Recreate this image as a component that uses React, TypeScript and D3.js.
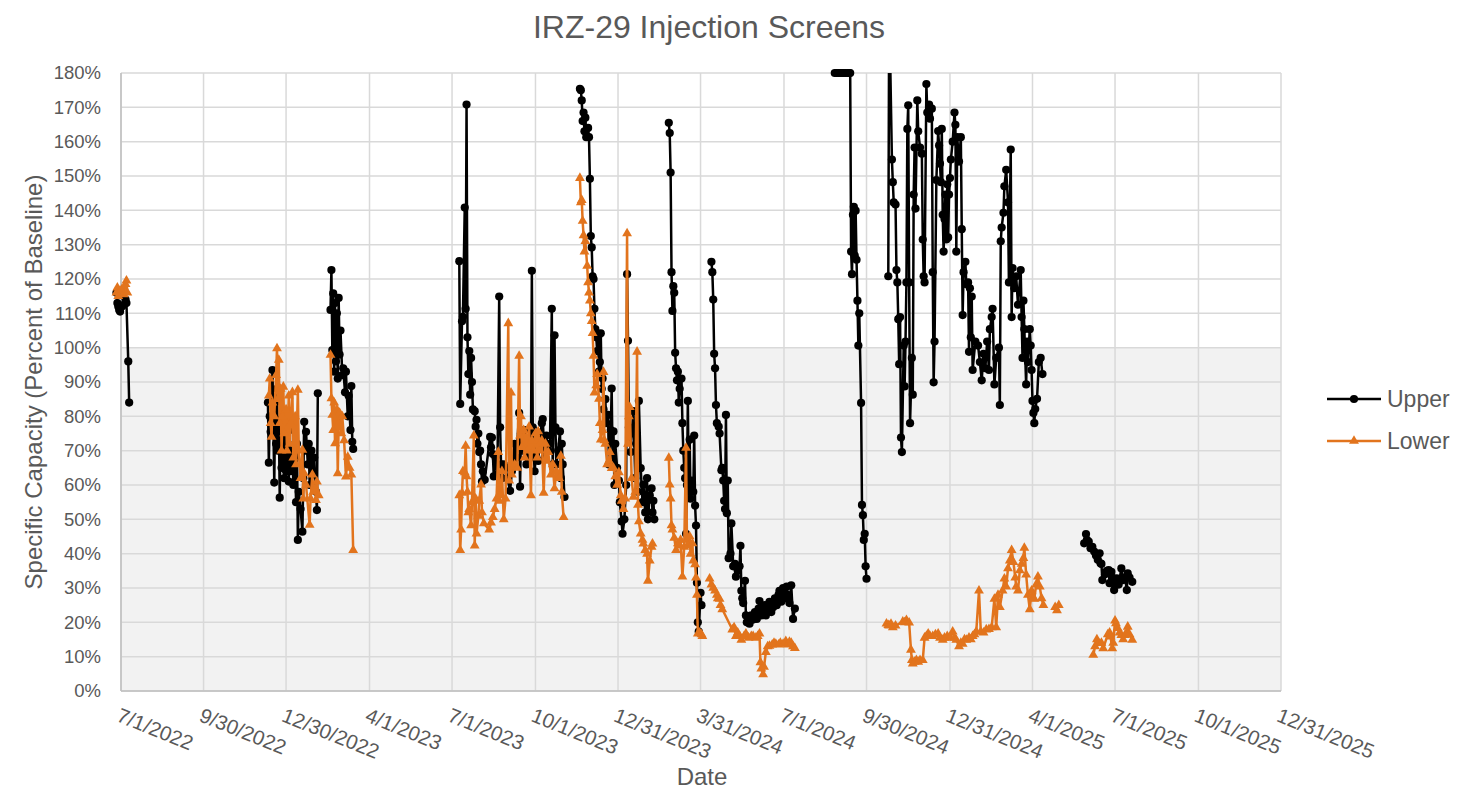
import * as d3 from 'd3';
import { useRef, useEffect } from 'react';

// RENDERING SETUP
const WIDTH = 1461;
const HEIGHT = 791;
const MARGIN = { TOP: 73, RIGHT: 180, BOTTOM: 100, LEFT: 121 };
const COLOR = {
  UPPER: '#000000',
  LOWER: '#E2741D',
  TEXT: '#595959',
  GRID: '#d9d9d9',
  AXIS: '#bfbfbf',
  BAND: '#f2f2f2',
};
const FONT = '"Liberation Sans", Arial, sans-serif';

// AXES
const X_DOMAIN = ['2022-07-01', '2025-12-31'];
const X_TICKS = [
  '2022-07-01', '2022-09-30', '2022-12-30', '2023-04-01', '2023-07-01',
  '2023-10-01', '2023-12-31', '2024-03-31', '2024-07-01', '2024-09-30',
  '2024-12-31', '2025-04-01', '2025-07-01', '2025-10-01', '2025-12-31',
];
const X_LABELS = [
  '7/1/2022', '9/30/2022', '12/30/2022', '4/1/2023', '7/1/2023',
  '10/1/2023', '12/31/2023', '3/31/2024', '7/1/2024', '9/30/2024',
  '12/31/2024', '4/1/2025', '7/1/2025', '10/1/2025', '12/31/2025',
];
const Y_TICKS = [0, 10, 20, 30, 40, 50, 60, 70, 80, 90, 100, 110, 120, 130, 140, 150, 160, 170, 180];
const BASELINE = 100;

type Pt = [string, number];

// UPPER SCREEN (percent of baseline), one array per run of readings
const UPPER_JUN22: Pt[] = [
  ['2022-06-26', 116], ['2022-06-27', 113], ['2022-06-28', 112], ['2022-06-29', 111],
  ['2022-06-30', 110.5], ['2022-07-02', 112], ['2022-07-04', 112.5], ['2022-07-06', 114],
  ['2022-07-07', 113], ['2022-07-09', 96], ['2022-07-10', 84],
];
const UPPER_DEC22: Pt[] = [
  ['2022-12-10', 84], ['2022-12-11', 66.5], ['2022-12-12', 80], ['2022-12-13', 75.5],
  ['2022-12-15', 93.5], ['2022-12-16', 77], ['2022-12-17', 60.7], ['2022-12-18', 84],
  ['2022-12-19', 72], ['2022-12-20', 88], ['2022-12-21', 70], ['2022-12-22', 79],
  ['2022-12-23', 56.3], ['2022-12-24', 75], ['2022-12-25', 65], ['2022-12-27', 78],
  ['2022-12-28', 62], ['2022-12-29', 74], ['2022-12-30', 64], ['2023-01-01', 72],
  ['2023-01-02', 61], ['2023-01-03', 76], ['2023-01-04', 64], ['2023-01-06', 70],
  ['2023-01-07', 60], ['2023-01-09', 68], ['2023-01-10', 55], ['2023-01-11', 72],
  ['2023-01-12', 44], ['2023-01-13', 58], ['2023-01-15', 53], ['2023-01-17', 46.4],
  ['2023-01-18', 62], ['2023-01-19', 78.4], ['2023-01-20', 70], ['2023-01-21', 75.5],
  ['2023-01-23', 66], ['2023-01-24', 72], ['2023-01-25', 60], ['2023-01-27', 70],
  ['2023-01-28', 63], ['2023-01-30', 68], ['2023-02-01', 58], ['2023-02-02', 52.7],
  ['2023-02-03', 86.7],
];
const UPPER_FEB23: Pt[] = [
  ['2023-02-17', 111], ['2023-02-18', 122.6], ['2023-02-19', 99.3], ['2023-02-20', 115.8],
  ['2023-02-21', 93], ['2023-02-22', 113], ['2023-02-23', 96], ['2023-02-24', 110],
  ['2023-02-25', 91], ['2023-02-26', 114.5], ['2023-02-27', 98], ['2023-02-28', 105],
  ['2023-03-02', 92], ['2023-03-03', 94], ['2023-03-05', 87], ['2023-03-06', 93],
  ['2023-03-08', 80], ['2023-03-09', 86], ['2023-03-11', 76], ['2023-03-12', 88.8],
  ['2023-03-13', 72.6], ['2023-03-14', 70.5],
];
const UPPER_JUL23: Pt[] = [
  ['2023-07-09', 125.2], ['2023-07-10', 83.6], ['2023-07-12', 107.7], ['2023-07-13', 109],
  ['2023-07-15', 140.8], ['2023-07-16', 111.3], ['2023-07-17', 170.8], ['2023-07-18', 103],
  ['2023-07-19', 92.3], ['2023-07-20', 99], ['2023-07-21', 86.3], ['2023-07-22', 97],
  ['2023-07-23', 90], ['2023-07-24', 82], ['2023-07-26', 81.5], ['2023-07-27', 77],
  ['2023-07-28', 79], ['2023-07-29', 72], ['2023-07-30', 75], ['2023-07-31', 69.6],
  ['2023-08-01', 70], ['2023-08-02', 66], ['2023-08-03', 61], ['2023-08-04', 64],
  ['2023-08-06', 61.5], ['2023-08-12', 74], ['2023-08-13', 71], ['2023-08-14', 73.8],
  ['2023-08-15', 69], ['2023-08-16', 62.5], ['2023-08-18', 68], ['2023-08-20', 63],
  ['2023-08-22', 114.9], ['2023-08-23', 76.8], ['2023-08-24', 66], ['2023-08-25', 62],
  ['2023-08-27', 66], ['2023-08-29', 65], ['2023-08-31', 62], ['2023-09-03', 58.3],
  ['2023-09-05', 64], ['2023-09-08', 72], ['2023-09-10', 68], ['2023-09-13', 81],
  ['2023-09-14', 59.5], ['2023-09-15', 75], ['2023-09-17', 70], ['2023-09-19', 76],
  ['2023-09-21', 66], ['2023-09-23', 72], ['2023-09-26', 68], ['2023-09-27', 122.4],
  ['2023-09-28', 76.8], ['2023-09-30', 64], ['2023-10-02', 70], ['2023-10-04', 67],
  ['2023-10-06', 74], ['2023-10-08', 78], ['2023-10-09', 79.2], ['2023-10-11', 68],
  ['2023-10-13', 74.4], ['2023-10-15', 70], ['2023-10-17', 72], ['2023-10-19', 111.3],
  ['2023-10-20', 66], ['2023-10-22', 103.6], ['2023-10-23', 76.8], ['2023-10-24', 66],
  ['2023-10-26', 70], ['2023-10-28', 75.6], ['2023-10-29', 62], ['2023-10-30', 72],
  ['2023-10-31', 66], ['2023-11-02', 56.5],
];
const UPPER_NOV23: Pt[] = [
  ['2023-11-19', 175.4], ['2023-11-20', 175], ['2023-11-21', 172], ['2023-11-22', 166],
  ['2023-11-23', 168.5], ['2023-11-24', 163], ['2023-11-25', 167], ['2023-11-26', 161.3],
  ['2023-11-28', 164], ['2023-11-29', 161.3], ['2023-11-30', 149.2], ['2023-12-01', 132.5],
  ['2023-12-02', 129.2], ['2023-12-03', 120.8], ['2023-12-04', 120], ['2023-12-05', 111.3],
  ['2023-12-06', 105.4], ['2023-12-07', 103], ['2023-12-08', 99], ['2023-12-09', 103],
  ['2023-12-10', 93], ['2023-12-11', 95.8], ['2023-12-12', 104.2], ['2023-12-13', 88],
  ['2023-12-14', 91], ['2023-12-15', 82], ['2023-12-17', 85], ['2023-12-18', 78],
  ['2023-12-20', 80.4], ['2023-12-21', 66], ['2023-12-23', 76], ['2023-12-24', 88.1],
  ['2023-12-25', 68], ['2023-12-26', 75.6], ['2023-12-27', 60], ['2023-12-28', 72],
  ['2023-12-30', 65], ['2024-01-01', 61.3], ['2024-01-02', 55], ['2024-01-04', 49.4],
  ['2024-01-05', 45.8], ['2024-01-07', 50], ['2024-01-09', 60], ['2024-01-10', 121.4],
  ['2024-01-11', 102], ['2024-01-12', 76.8], ['2024-01-14', 69.6], ['2024-01-15', 75],
  ['2024-01-17', 81.5], ['2024-01-19', 62], ['2024-01-20', 72], ['2024-01-22', 58],
  ['2024-01-23', 84.5], ['2024-01-25', 64.9], ['2024-01-27', 55], ['2024-01-28', 60.1],
  ['2024-01-30', 52], ['2024-02-01', 62], ['2024-02-02', 50], ['2024-02-04', 57],
  ['2024-02-06', 59], ['2024-02-07', 52], ['2024-02-08', 55.4], ['2024-02-09', 50],
];
const UPPER_FEB24: Pt[] = [
  ['2024-02-25', 165.5], ['2024-02-26', 162.5], ['2024-02-27', 151], ['2024-02-28', 122],
  ['2024-02-29', 110.7], ['2024-03-01', 117.9], ['2024-03-02', 116], ['2024-03-03', 98.5],
  ['2024-03-04', 94], ['2024-03-05', 90.5], ['2024-03-06', 93], ['2024-03-07', 84],
  ['2024-03-08', 88], ['2024-03-10', 91], ['2024-03-11', 78], ['2024-03-12', 70],
  ['2024-03-13', 65], ['2024-03-14', 62], ['2024-03-15', 45.8], ['2024-03-16', 60],
  ['2024-03-17', 84.5], ['2024-03-18', 58], ['2024-03-19', 73.2], ['2024-03-20', 56],
  ['2024-03-21', 61.3], ['2024-03-23', 58], ['2024-03-24', 74.4], ['2024-03-25', 54],
  ['2024-03-26', 48.2], ['2024-03-27', 31.5], ['2024-03-28', 20], ['2024-03-29', 17.3],
  ['2024-03-31', 28.6], ['2024-04-01', 25],
];
const UPPER_APR24: Pt[] = [
  ['2024-04-12', 125], ['2024-04-13', 122], ['2024-04-14', 114], ['2024-04-15', 98.2],
  ['2024-04-16', 94], ['2024-04-17', 83.3], ['2024-04-18', 78], ['2024-04-20', 77],
  ['2024-04-21', 75], ['2024-04-23', 64.3], ['2024-04-24', 65], ['2024-04-25', 61.3],
  ['2024-04-26', 55.4], ['2024-04-27', 53], ['2024-04-28', 80.4], ['2024-04-29', 51.8],
  ['2024-04-30', 61.3], ['2024-05-01', 38.7], ['2024-05-03', 40], ['2024-05-04', 48.8],
  ['2024-05-06', 36.3], ['2024-05-08', 37], ['2024-05-09', 33.3], ['2024-05-11', 35],
  ['2024-05-13', 36.3], ['2024-05-14', 42.3], ['2024-05-15', 29.2], ['2024-05-16', 27],
  ['2024-05-17', 25.6], ['2024-05-19', 32.1], ['2024-05-20', 22], ['2024-05-21', 20],
  ['2024-05-23', 21], ['2024-05-24', 19.6], ['2024-05-26', 22], ['2024-05-28', 20.8],
  ['2024-05-30', 23], ['2024-06-01', 21], ['2024-06-03', 24], ['2024-06-04', 26.2],
  ['2024-06-06', 22], ['2024-06-08', 23.8], ['2024-06-10', 25], ['2024-06-11', 22],
  ['2024-06-13', 24], ['2024-06-15', 26], ['2024-06-17', 23], ['2024-06-19', 24.4],
  ['2024-06-21', 27], ['2024-06-23', 25], ['2024-06-25', 28], ['2024-06-26', 29.2],
  ['2024-06-28', 26], ['2024-06-30', 30], ['2024-07-02', 27], ['2024-07-04', 30.4],
  ['2024-07-05', 28], ['2024-07-07', 25.6], ['2024-07-09', 30.8], ['2024-07-11', 21],
  ['2024-07-13', 24],
];
const UPPER_AUG24: Pt[] = [
  ['2024-08-26', 180], ['2024-08-28', 180], ['2024-08-30', 180], ['2024-09-01', 180],
  ['2024-09-03', 180], ['2024-09-05', 180], ['2024-09-07', 180], ['2024-09-09', 180],
  ['2024-09-11', 180], ['2024-09-12', 180], ['2024-09-13', 128], ['2024-09-14', 121.4],
  ['2024-09-15', 138.7], ['2024-09-16', 141], ['2024-09-17', 126.8], ['2024-09-18', 139.9],
  ['2024-09-19', 125.6], ['2024-09-20', 113.7], ['2024-09-21', 100.6], ['2024-09-22', 110],
  ['2024-09-24', 83.9], ['2024-09-25', 54.2], ['2024-09-26', 51.2], ['2024-09-27', 44],
  ['2024-09-28', 45.8], ['2024-09-29', 36.3], ['2024-09-30', 32.7],
];
const UPPER_OCT24: Pt[] = [
  ['2024-10-24', 120.8], ['2024-10-25', 200], ['2024-10-28', 154.8], ['2024-10-29', 148.2],
  ['2024-10-30', 142.3], ['2024-11-01', 141.7], ['2024-11-02', 122.6], ['2024-11-03', 119],
  ['2024-11-04', 108.3], ['2024-11-05', 95.2], ['2024-11-06', 108.9], ['2024-11-07', 73.8],
  ['2024-11-08', 69.6], ['2024-11-10', 100.6], ['2024-11-11', 88.7], ['2024-11-12', 101.8],
  ['2024-11-13', 119], ['2024-11-14', 163.7], ['2024-11-15', 170.6], ['2024-11-16', 119],
  ['2024-11-17', 78], ['2024-11-19', 97], ['2024-11-20', 86.3], ['2024-11-21', 144.6],
  ['2024-11-22', 158.3], ['2024-11-23', 140.5], ['2024-11-25', 172], ['2024-11-26', 163],
  ['2024-11-28', 158.3], ['2024-11-30', 156.5], ['2024-12-01', 131.5], ['2024-12-02', 120.8],
  ['2024-12-03', 119], ['2024-12-05', 176.8], ['2024-12-06', 168.5], ['2024-12-08', 170.8],
  ['2024-12-09', 166.7], ['2024-12-11', 169.6], ['2024-12-12', 122], ['2024-12-13', 89.9],
  ['2024-12-14', 101.8], ['2024-12-16', 148.8], ['2024-12-18', 163.1], ['2024-12-19', 158.9],
  ['2024-12-20', 153.6], ['2024-12-21', 148.2], ['2024-12-22', 163.7], ['2024-12-23', 138.7],
  ['2024-12-24', 128], ['2024-12-25', 137.5], ['2024-12-26', 144.6], ['2024-12-27', 131.5],
  ['2024-12-28', 147.6], ['2024-12-29', 132.1], ['2024-12-30', 144.6], ['2024-12-31', 149.4],
  ['2025-01-01', 154.8], ['2025-01-03', 160], ['2025-01-05', 168.5], ['2025-01-06', 164.9],
  ['2025-01-07', 128], ['2025-01-08', 161.3], ['2025-01-10', 154.2], ['2025-01-12', 161.3],
  ['2025-01-13', 134.5], ['2025-01-14', 109.5], ['2025-01-15', 122], ['2025-01-17', 125],
  ['2025-01-18', 118.5], ['2025-01-20', 119], ['2025-01-21', 98.8], ['2025-01-22', 117.3],
  ['2025-01-23', 103], ['2025-01-24', 114.9], ['2025-01-25', 93.5], ['2025-01-28', 101.8],
  ['2025-01-31', 100.6], ['2025-02-02', 95.8], ['2025-02-04', 90.5], ['2025-02-06', 98.2],
  ['2025-02-08', 94], ['2025-02-10', 101.8], ['2025-02-12', 93.5], ['2025-02-13', 105.4],
  ['2025-02-15', 108.9], ['2025-02-16', 111.3], ['2025-02-18', 89.3], ['2025-02-20', 97],
  ['2025-02-23', 100], ['2025-02-24', 83.3], ['2025-02-25', 131], ['2025-02-26', 135],
  ['2025-02-28', 139.3], ['2025-03-01', 147], ['2025-03-03', 151.8], ['2025-03-05', 142.3],
  ['2025-03-06', 119], ['2025-03-08', 157.7], ['2025-03-09', 108.9], ['2025-03-10', 123.2],
  ['2025-03-12', 117.3], ['2025-03-14', 120.8], ['2025-03-16', 112.5], ['2025-03-19', 122.6],
  ['2025-03-20', 108.9], ['2025-03-21', 97], ['2025-03-22', 113.7], ['2025-03-23', 105.4],
  ['2025-03-25', 89.3], ['2025-03-26', 101.8], ['2025-03-27', 95.8], ['2025-03-29', 105.4],
  ['2025-03-30', 100.6], ['2025-03-31', 93.5], ['2025-04-01', 84.5], ['2025-04-02', 81],
  ['2025-04-03', 78], ['2025-04-04', 82.1], ['2025-04-06', 85.1], ['2025-04-08', 95.8],
  ['2025-04-10', 97], ['2025-04-12', 92.3],
];
const UPPER_MAY25: Pt[] = [
  ['2025-05-28', 43], ['2025-05-30', 45.7], ['2025-05-31', 44], ['2025-06-02', 43.5],
  ['2025-06-04', 41.6], ['2025-06-06', 42], ['2025-06-08', 40.6], ['2025-06-10', 39.5],
  ['2025-06-12', 38.2], ['2025-06-14', 40.1], ['2025-06-15', 37.2], ['2025-06-16', 37],
  ['2025-06-17', 32.3], ['2025-06-20', 34], ['2025-06-22', 35], ['2025-06-24', 35.2],
  ['2025-06-25', 31.4], ['2025-06-27', 34.7], ['2025-06-28', 33], ['2025-06-30', 29.4],
  ['2025-07-01', 31], ['2025-07-03', 32.8], ['2025-07-05', 31], ['2025-07-08', 35.7],
  ['2025-07-10', 32.3], ['2025-07-12', 33], ['2025-07-14', 29.4], ['2025-07-15', 34.3],
  ['2025-07-17', 33], ['2025-07-20', 31.8],
];

// LOWER SCREEN (percent of baseline)
const LOWER_JUN22: Pt[] = [
  ['2022-06-26', 116], ['2022-06-27', 117.5], ['2022-06-28', 115], ['2022-06-30', 116.5],
  ['2022-07-02', 117], ['2022-07-04', 115.5], ['2022-07-06', 118.5], ['2022-07-07', 119.5],
  ['2022-07-08', 116],
];
const LOWER_DEC22: Pt[] = [
  ['2022-12-11', 86], ['2022-12-12', 91], ['2022-12-13', 78], ['2022-12-14', 74],
  ['2022-12-15', 84], ['2022-12-17', 80], ['2022-12-19', 92], ['2022-12-20', 99.8],
  ['2022-12-21', 85], ['2022-12-22', 96.4], ['2022-12-23', 78], ['2022-12-24', 88],
  ['2022-12-25', 70], ['2022-12-26', 80], ['2022-12-27', 88.6], ['2022-12-28', 75],
  ['2022-12-30', 82], ['2022-12-31', 70], ['2023-01-02', 86], ['2023-01-03', 72],
  ['2023-01-04', 78], ['2023-01-06', 87], ['2023-01-07', 68], ['2023-01-09', 80],
  ['2023-01-10', 66], ['2023-01-12', 87.7], ['2023-01-13', 70], ['2023-01-15', 62],
  ['2023-01-17', 70.2], ['2023-01-18', 56], ['2023-01-19', 63.4], ['2023-01-21', 60],
  ['2023-01-25', 48.4], ['2023-01-26', 56], ['2023-01-28', 63], ['2023-01-29', 58],
  ['2023-01-31', 59], ['2023-02-01', 55.6], ['2023-02-02', 61], ['2023-02-04', 57],
];
const LOWER_FEB23: Pt[] = [
  ['2023-02-17', 97.9], ['2023-02-18', 85.2], ['2023-02-19', 80.4], ['2023-02-20', 76],
  ['2023-02-21', 84], ['2023-02-22', 72.1], ['2023-02-24', 82], ['2023-02-25', 63.4],
  ['2023-02-26', 78], ['2023-02-27', 81], ['2023-03-01', 75], ['2023-03-02', 80],
  ['2023-03-04', 73], ['2023-03-06', 62.4], ['2023-03-08', 68.2], ['2023-03-10', 65],
  ['2023-03-12', 63], ['2023-03-14', 41],
];
const LOWER_JUL23: Pt[] = [
  ['2023-07-09', 57], ['2023-07-10', 41], ['2023-07-11', 47], ['2023-07-12', 57.7],
  ['2023-07-13', 64], ['2023-07-15', 63.7], ['2023-07-16', 71.4], ['2023-07-17', 62.5],
  ['2023-07-18', 58], ['2023-07-19', 52], ['2023-07-20', 53], ['2023-07-22', 48.2],
  ['2023-07-23', 55], ['2023-07-25', 74.4], ['2023-07-26', 42.3], ['2023-07-27', 56],
  ['2023-07-28', 45.8], ['2023-07-30', 51], ['2023-07-31', 55.4], ['2023-08-02', 60.1],
  ['2023-08-03', 52], ['2023-08-05', 48.8], ['2023-08-11', 47], ['2023-08-13', 49],
  ['2023-08-15', 50.6], ['2023-08-17', 53], ['2023-08-19', 56], ['2023-08-21', 69.6],
  ['2023-08-22', 55.4], ['2023-08-23', 57], ['2023-08-25', 64], ['2023-08-27', 50],
  ['2023-08-29', 56], ['2023-09-01', 107.1], ['2023-09-02', 61.3], ['2023-09-04', 86.9],
  ['2023-09-05', 63], ['2023-09-08', 66], ['2023-09-11', 65], ['2023-09-13', 97.6],
  ['2023-09-14', 74.4], ['2023-09-15', 80], ['2023-09-16', 71], ['2023-09-18', 76],
  ['2023-09-19', 68], ['2023-09-21', 74], ['2023-09-22', 70], ['2023-09-24', 77],
  ['2023-09-26', 57], ['2023-09-27', 73], ['2023-09-29', 70], ['2023-10-01', 75],
  ['2023-10-03', 68], ['2023-10-04', 75.6], ['2023-10-06', 70], ['2023-10-08', 73],
  ['2023-10-10', 57.7], ['2023-10-12', 72], ['2023-10-13', 67], ['2023-10-15', 69.6],
  ['2023-10-18', 63], ['2023-10-20', 66], ['2023-10-22', 59], ['2023-10-24', 64],
  ['2023-10-27', 62], ['2023-10-29', 68.5], ['2023-10-30', 58], ['2023-11-01', 50.6],
];
const LOWER_NOV23: Pt[] = [
  ['2023-11-19', 149.4], ['2023-11-20', 142.3], ['2023-11-21', 143], ['2023-11-22', 136.9],
  ['2023-11-23', 132.7], ['2023-11-24', 128], ['2023-11-25', 131], ['2023-11-27', 123.8],
  ['2023-11-28', 119], ['2023-11-29', 116], ['2023-11-30', 113.7], ['2023-12-01', 110],
  ['2023-12-02', 107.7], ['2023-12-03', 104.2], ['2023-12-04', 97.6], ['2023-12-05', 86.9],
  ['2023-12-07', 89], ['2023-12-08', 92.3], ['2023-12-10', 85.1], ['2023-12-11', 78],
  ['2023-12-12', 73.2], ['2023-12-14', 76], ['2023-12-15', 92.9], ['2023-12-16', 73],
  ['2023-12-17', 72], ['2023-12-19', 66], ['2023-12-21', 67], ['2023-12-22', 69.6],
  ['2023-12-24', 64.9], ['2023-12-26', 65], ['2023-12-28', 62.5], ['2023-12-30', 60],
  ['2024-01-01', 63.7], ['2024-01-03', 57], ['2024-01-04', 55.4], ['2024-01-06', 53],
  ['2024-01-08', 56], ['2024-01-10', 133.3], ['2024-01-11', 72], ['2024-01-12', 80],
  ['2024-01-13', 82.7], ['2024-01-15', 62], ['2024-01-17', 56.5], ['2024-01-19', 58],
  ['2024-01-21', 98.8], ['2024-01-22', 54.2], ['2024-01-23', 49.4], ['2024-01-25', 45.8],
  ['2024-01-27', 44], ['2024-01-28', 42.9], ['2024-01-30', 41], ['2024-02-01', 39.9],
  ['2024-02-02', 32.1], ['2024-02-04', 38], ['2024-02-06', 42], ['2024-02-07', 42.9],
];
const LOWER_FEB24: Pt[] = [
  ['2024-02-25', 67.9], ['2024-02-26', 60.1], ['2024-02-27', 56], ['2024-02-28', 48.2],
  ['2024-02-29', 47], ['2024-03-02', 44.6], ['2024-03-04', 41], ['2024-03-06', 43],
  ['2024-03-08', 42.3], ['2024-03-09', 44], ['2024-03-11', 33.3], ['2024-03-13', 42],
  ['2024-03-15', 70.8], ['2024-03-16', 44], ['2024-03-17', 42.3], ['2024-03-19', 45],
  ['2024-03-20', 39.9], ['2024-03-22', 43], ['2024-03-23', 38], ['2024-03-25', 36.9],
  ['2024-03-26', 33], ['2024-03-27', 28], ['2024-03-28', 16.7], ['2024-03-30', 17],
  ['2024-04-01', 16.5], ['2024-04-02', 16],
];
const LOWER_APR24: Pt[] = [
  ['2024-04-10', 32.7], ['2024-04-12', 31], ['2024-04-14', 30], ['2024-04-16', 29.2],
  ['2024-04-18', 28], ['2024-04-19', 27], ['2024-04-21', 26.8], ['2024-04-22', 25],
  ['2024-04-24', 23.8], ['2024-05-05', 17.9], ['2024-05-07', 18.5], ['2024-05-09', 16],
  ['2024-05-11', 17], ['2024-05-13', 16], ['2024-05-15', 14.9], ['2024-05-18', 16],
  ['2024-05-20', 16.7], ['2024-05-23', 15.5], ['2024-05-26', 16], ['2024-05-28', 16],
  ['2024-05-31', 15.5], ['2024-06-02', 16], ['2024-06-04', 16.7], ['2024-06-05', 8.3],
  ['2024-06-06', 6.5], ['2024-06-08', 4.8], ['2024-06-09', 7], ['2024-06-11', 11.3],
  ['2024-06-13', 13], ['2024-06-15', 13.1], ['2024-06-18', 13.5], ['2024-06-20', 14],
  ['2024-06-22', 13.7], ['2024-06-25', 13.5], ['2024-06-27', 14], ['2024-06-30', 13.7],
  ['2024-07-03', 14.5], ['2024-07-05', 13.5], ['2024-07-07', 14.3], ['2024-07-09', 14],
  ['2024-07-11', 13], ['2024-07-13', 12.5],
];
const LOWER_OCT24: Pt[] = [
  ['2024-10-22', 19.6], ['2024-10-24', 19.2], ['2024-10-25', 19], ['2024-10-27', 19.5],
  ['2024-10-29', 18.5], ['2024-11-01', 19], ['2024-11-09', 20.2], ['2024-11-11', 20],
  ['2024-11-13', 20.6], ['2024-11-16', 19.9], ['2024-11-18', 12], ['2024-11-19', 9],
  ['2024-11-20', 8], ['2024-11-22', 8.5], ['2024-11-24', 9], ['2024-11-26', 8.5],
  ['2024-11-28', 9], ['2024-12-01', 9], ['2024-12-03', 15.5], ['2024-12-05', 16],
  ['2024-12-07', 16.7], ['2024-12-09', 16], ['2024-12-12', 16], ['2024-12-15', 16.5],
  ['2024-12-18', 16.7], ['2024-12-20', 15.5], ['2024-12-23', 14.9], ['2024-12-25', 15.5],
  ['2024-12-28', 16], ['2024-12-31', 15.5], ['2025-01-03', 17.3], ['2025-01-05', 15.5],
  ['2025-01-07', 14.9], ['2025-01-10', 13], ['2025-01-12', 14], ['2025-01-14', 13.7],
  ['2025-01-16', 15], ['2025-01-18', 14.9], ['2025-01-21', 15.5], ['2025-01-23', 15],
  ['2025-01-25', 16], ['2025-01-27', 16.5], ['2025-01-29', 17.3], ['2025-02-01', 29.2],
  ['2025-02-03', 17.3], ['2025-02-06', 17], ['2025-02-09', 17.9], ['2025-02-12', 18],
  ['2025-02-15', 18.5], ['2025-02-18', 26.8], ['2025-02-20', 18.5], ['2025-02-22', 28],
  ['2025-02-24', 24.4], ['2025-02-27', 29.2], ['2025-03-01', 32.7], ['2025-03-03', 30.4],
  ['2025-03-05', 35.7], ['2025-03-07', 38], ['2025-03-09', 41], ['2025-03-11', 37.5],
  ['2025-03-13', 33], ['2025-03-14', 30.4], ['2025-03-16', 29.2], ['2025-03-18', 35.1],
  ['2025-03-20', 37], ['2025-03-22', 38.7], ['2025-03-23', 41.7], ['2025-03-25', 33.9],
  ['2025-03-27', 28], ['2025-03-29', 23.8], ['2025-03-31', 29.2], ['2025-04-02', 27],
  ['2025-04-03', 26.8], ['2025-04-05', 31], ['2025-04-07', 33.3], ['2025-04-09', 30.4],
  ['2025-04-11', 27], ['2025-04-13', 25],
];
const LOWER_APR25: Pt[] = [
  ['2025-04-26', 24.4], ['2025-04-28', 23.5], ['2025-04-30', 25],
];
const LOWER_JUN25: Pt[] = [
  ['2025-06-07', 10.5], ['2025-06-09', 13], ['2025-06-11', 15], ['2025-06-13', 13.9],
  ['2025-06-16', 14], ['2025-06-18', 12.4], ['2025-06-23', 16.5], ['2025-06-25', 17],
  ['2025-06-26', 15.8], ['2025-06-28', 12.4], ['2025-06-29', 14], ['2025-07-01', 20.5],
  ['2025-07-02', 19.7], ['2025-07-04', 18.3], ['2025-07-06', 17], ['2025-07-08', 16.3],
  ['2025-07-10', 15], ['2025-07-12', 16.3], ['2025-07-14', 17], ['2025-07-15', 18.7],
  ['2025-07-17', 16.5], ['2025-07-20', 14.9],
];

const UPPER_RUNS = [
  UPPER_JUN22, UPPER_DEC22, UPPER_FEB23, UPPER_JUL23, UPPER_NOV23,
  UPPER_FEB24, UPPER_APR24, UPPER_AUG24, UPPER_OCT24, UPPER_MAY25,
];
const LOWER_RUNS = [
  LOWER_JUN22, LOWER_DEC22, LOWER_FEB23, LOWER_JUL23, LOWER_NOV23,
  LOWER_FEB24, LOWER_APR24, LOWER_OCT24, LOWER_APR25, LOWER_JUN25,
];

const InjectionChart = () => {
  const svgRef = useRef<SVGSVGElement>(null);

  useEffect(() => {
    const svg = d3.select(svgRef.current);
    svg.selectAll('*').remove();

    const parse = d3.utcParse('%Y-%m-%d');
    const x = d3
      .scaleUtc()
      .domain(X_DOMAIN.map((d) => parse(d) as Date))
      .range([MARGIN.LEFT, WIDTH - MARGIN.RIGHT]);
    const y = d3
      .scaleLinear()
      .domain([0, 180])
      .range([HEIGHT - MARGIN.BOTTOM, MARGIN.TOP]);

    const [x0, x1] = x.range();
    const [y0, y1] = y.range();

    svg.append('rect').attr('width', WIDTH).attr('height', HEIGHT).attr('fill', '#fff');

    // shaded band below baseline
    svg
      .append('rect')
      .attr('x', x0)
      .attr('y', y(BASELINE))
      .attr('width', x1 - x0)
      .attr('height', y(0) - y(BASELINE))
      .attr('fill', COLOR.BAND);

    // gridlines
    const grid = svg.append('g').attr('stroke', COLOR.GRID).attr('stroke-width', 1.5);
    grid
      .selectAll('line.h')
      .data(Y_TICKS)
      .join('line')
      .attr('x1', x0)
      .attr('x2', x1)
      .attr('y1', (d) => y(d))
      .attr('y2', (d) => y(d));
    grid
      .selectAll('line.v')
      .data(X_TICKS)
      .join('line')
      .attr('x1', (d) => x(parse(d) as Date))
      .attr('x2', (d) => x(parse(d) as Date))
      .attr('y1', y1)
      .attr('y2', y0);

    // axis lines
    svg
      .append('line')
      .attr('x1', x0).attr('x2', x0).attr('y1', y1).attr('y2', y0)
      .attr('stroke', COLOR.AXIS).attr('stroke-width', 1.5);
    svg
      .append('line')
      .attr('x1', x0).attr('x2', x1).attr('y1', y0).attr('y2', y0)
      .attr('stroke', COLOR.AXIS).attr('stroke-width', 1.5);

    // y tick labels
    svg
      .append('g')
      .selectAll('text')
      .data(Y_TICKS)
      .join('text')
      .attr('x', 101)
      .attr('y', (d) => y(d))
      .attr('dy', '0.35em')
      .attr('text-anchor', 'end')
      .attr('font-family', FONT)
      .attr('font-size', 18.5)
      .attr('fill', COLOR.TEXT)
      .text((d) => `${d}%`);

    // x tick labels, slanted
    svg
      .append('g')
      .selectAll('text')
      .data(X_TICKS)
      .join('text')
      .attr('transform', (d) => `translate(${x(parse(d) as Date)}, 707) rotate(22)`)
      .attr('dy', '0.72em')
      .attr('text-anchor', 'start')
      .attr('font-family', FONT)
      .attr('font-size', 20.5)
      .attr('fill', COLOR.TEXT)
      .text((d, i) => X_LABELS[i]);

    // titles
    svg
      .append('text')
      .attr('x', 709)
      .attr('y', 38)
      .attr('text-anchor', 'middle')
      .attr('font-family', FONT)
      .attr('font-size', 32)
      .attr('fill', COLOR.TEXT)
      .text('IRZ-29 Injection Screens');
    svg
      .append('text')
      .attr('transform', `translate(42, ${(y0 + y1) / 2}) rotate(-90)`)
      .attr('text-anchor', 'middle')
      .attr('font-family', FONT)
      .attr('font-size', 24)
      .attr('fill', COLOR.TEXT)
      .text('Specific Capacity (Percent of Baseline)');
    svg
      .append('text')
      .attr('x', 702)
      .attr('y', 785)
      .attr('text-anchor', 'middle')
      .attr('font-family', FONT)
      .attr('font-size', 24)
      .attr('fill', COLOR.TEXT)
      .text('Date');

    // clip for lines that leave the top of the axis
    svg
      .append('clipPath')
      .attr('id', 'plot-clip')
      .append('rect')
      .attr('x', 0)
      .attr('y', y1)
      .attr('width', WIDTH)
      .attr('height', y0 - y1 + 10);

    const line = d3
      .line<Pt>()
      .x((d) => x(parse(d[0]) as Date))
      .y((d) => y(d[1]));

    const triangle = d3.symbol().type(d3.symbolTriangle).size(42)();

    const drawSeries = (runs: Pt[][], color: string, marker: 'circle' | 'triangle') => {
      const g = svg.append('g');
      g.append('g')
        .attr('clip-path', 'url(#plot-clip)')
        .selectAll('path')
        .data(runs)
        .join('path')
        .attr('d', (d) => line(d))
        .attr('fill', 'none')
        .attr('stroke', color)
        .attr('stroke-width', 2.5)
        .attr('stroke-linejoin', 'round');

      const pts = runs.flat().filter((d) => d[1] <= 180);
      if (marker === 'circle') {
        g.append('g')
          .selectAll('circle')
          .data(pts)
          .join('circle')
          .attr('cx', (d) => x(parse(d[0]) as Date))
          .attr('cy', (d) => y(d[1]))
          .attr('r', 4.1)
          .attr('fill', color);
      } else {
        g.append('g')
          .selectAll('path')
          .data(pts)
          .join('path')
          .attr('d', triangle)
          .attr('transform', (d) => `translate(${x(parse(d[0]) as Date)}, ${y(d[1])})`)
          .attr('fill', color);
      }
    };

    drawSeries(UPPER_RUNS, COLOR.UPPER, 'circle');
    drawSeries(LOWER_RUNS, COLOR.LOWER, 'triangle');

    // legend
    const legend = svg.append('g').attr('font-family', FONT).attr('font-size', 23);
    const items = [
      { label: 'Upper', color: COLOR.UPPER, marker: 'circle', y: 399 },
      { label: 'Lower', color: COLOR.LOWER, marker: 'triangle', y: 441 },
    ];
    items.forEach((it) => {
      legend
        .append('line')
        .attr('x1', 1327).attr('x2', 1381).attr('y1', it.y).attr('y2', it.y)
        .attr('stroke', it.color).attr('stroke-width', 2.5);
      if (it.marker === 'circle') {
        legend.append('circle').attr('cx', 1354).attr('cy', it.y).attr('r', 4.1).attr('fill', it.color);
      } else {
        legend
          .append('path')
          .attr('d', triangle)
          .attr('transform', `translate(1354, ${it.y})`)
          .attr('fill', it.color);
      }
      legend
        .append('text')
        .attr('x', 1387)
        .attr('y', it.y)
        .attr('dy', '0.35em')
        .attr('fill', COLOR.TEXT)
        .text(it.label);
    });
  }, []);

  return <svg ref={svgRef} width={WIDTH} height={HEIGHT} style={{ display: 'block' }} />;
};

export default function App() {
  return (
    <div style={{ position: 'absolute', left: 0, top: 0 }}>
      <InjectionChart />
    </div>
  );
}
